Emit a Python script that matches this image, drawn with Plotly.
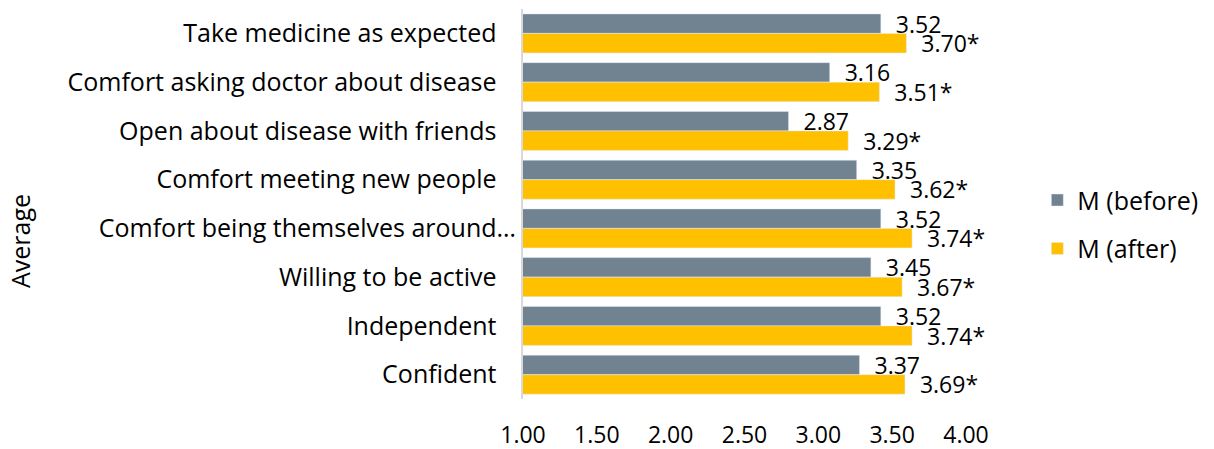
import plotly.graph_objects as go

# Survey items, top to bottom
categories = [
    "Take medicine as expected",
    "Comfort asking doctor about disease",
    "Open about disease with friends",
    "Comfort meeting new people",
    "Comfort being themselves around…",
    "Willing to be active",
    "Independent",
    "Confident",
]
m_before = [3.52, 3.16, 2.87, 3.35, 3.52, 3.45, 3.52, 3.37]
m_after = [3.70, 3.51, 3.29, 3.62, 3.74, 3.67, 3.74, 3.69]
after_marks = ["*"] * len(m_after)  # significance flags
tick_vals = [1.0, 1.5, 2.0, 2.5, 3.0, 3.5, 4.0]

FONT = "Open Sans"
FS = 23      # numbers
FS_CAT = 25  # category labels, legend, axis title
GREY = "#718290"
GOLD = "#FFC000"
NBSP = "\u00a0"

# category labels carry a trailing gap, except the truncated one
ticktext = [c if c.endswith("…") else c + NBSP * 3 for c in categories]

fig = go.Figure()
fig.add_trace(go.Bar(
    y=categories, x=m_before, orientation="h", name="M (before)",
    marker=dict(color=GREY), legendgroup="b",
    text=[f"{NBSP*2}{v:.2f}" for v in m_before], textposition="outside",
    textfont=dict(family=FONT, size=FS, color="black"),
    cliponaxis=False, constraintext="none",
))
fig.add_trace(go.Bar(
    y=categories, x=m_after, orientation="h", name="M (after)",
    marker=dict(color=GOLD), legendgroup="a",
    text=[f"{NBSP*2}{v:.2f}{s}" for v, s in zip(m_after, after_marks)],
    textposition="outside",
    textfont=dict(family=FONT, size=FS, color="black"),
    cliponaxis=False, constraintext="none",
))
# hidden carrier so the value-axis labels are rendered
fig.add_trace(go.Scatter(
    x=tick_vals, y=[categories[0]] * len(tick_vals), xaxis="x2",
    mode="markers", marker=dict(opacity=0), showlegend=False,
    hoverinfo="skip",
))

fig.update_layout(
    width=1214, height=449,
    margin=dict(l=523, r=1214 - 966, t=9, b=50, autoexpand=False),
    paper_bgcolor="white", plot_bgcolor="rgba(0,0,0,0)",
    font=dict(family=FONT, size=FS, color="black"),
    barmode="group", bargap=0.2, bargroupgap=0,
    showlegend=True,
    legend=dict(
        x=1.161, y=0.448, xanchor="left", yanchor="middle",
        traceorder="grouped", tracegroupgap=13,
        font=dict(family=FONT, size=FS_CAT, color="black"),
        bgcolor="rgba(0,0,0,0)",
    ),
    xaxis=dict(
        domain=[0, 426 / 443], range=[1, 4], showticklabels=False,
        showgrid=False, zeroline=False, showline=False, ticks="",
        automargin=False,
    ),
    xaxis2=dict(
        domain=[0, 1], range=[1, 4], anchor="y", side="bottom",
        tickvals=tick_vals, ticktext=[f"{v:.2f}" for v in tick_vals],
        showgrid=False, zeroline=False, showline=False, ticks="",
        ticklabelstandoff=20, automargin=False,
        tickfont=dict(family=FONT, size=FS, color="black"),
    ),
    yaxis=dict(
        autorange="reversed", categoryorder="array", categoryarray=categories,
        tickvals=categories, ticktext=ticktext,
        showline=True, linecolor="#D9D9D9", linewidth=2,
        showgrid=False, zeroline=False, ticks="", ticklabelstandoff=0,
        automargin=False,
        tickfont=dict(family=FONT, size=FS_CAT, color="black"),
    ),
    annotations=[dict(
        text="Average", textangle=-90, showarrow=False,
        xref="paper", yref="paper", x=(20 - 523) / 443, y=(399 - 241) / 390,
        xanchor="center", yanchor="middle",
        font=dict(family=FONT, size=FS_CAT, color="black"),
    )],
)

fig.write_html("out.html")
